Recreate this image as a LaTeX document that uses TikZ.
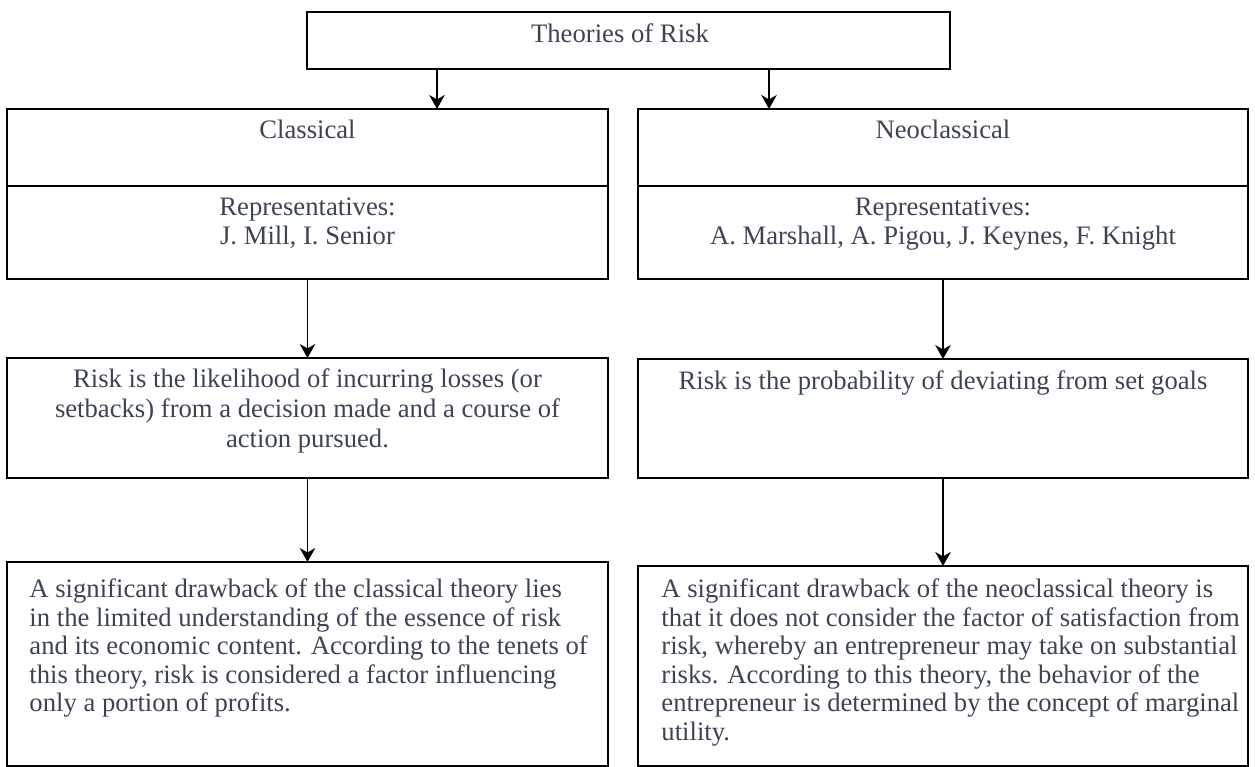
\documentclass[tikz,border=0pt]{standalone}
\usepackage{fontspec}
\setmainfont{Liberation Serif}
\usetikzlibrary{arrows.meta, positioning}
\usepackage{xcolor}
\definecolor{SlateText}{RGB}{60,68,84}

\begin{document}
\begin{tikzpicture}[
          x=0.45pt, y=-0.45pt,
          frame/.style={rectangle, draw=black, line width=0.75pt, inner sep=0pt, outer sep=0pt},
          caption/.style={inner sep=0pt, font=\fontsize{12pt}{13.4pt}\selectfont, text=SlateText, align=center},
          verdict/.style={caption, font=\fontsize{12pt}{12.85pt}\selectfont, align=left},
          arrow/.style={-{Stealth[length=6.3pt, width=7pt, inset=2pt]}, line width=0.8pt, black}
        ]
          \useasboundingbox (0,0) rectangle (1255,767);
          % top level
          \node (theories) [frame, minimum width=289.35pt, minimum height=25.65pt] at (628.5,40.5) {};
          \node (theoriesTxt) [caption, below=4.85pt of theories.north, xshift=-3.83pt] {Theories of Risk};
          % classical column
          \node (clsHead) [frame, minimum width=270.45pt, minimum height=34.65pt] at (307.5,147.5) {};
          \node (clsRep) [frame, minimum width=270.45pt, minimum height=41.85pt, below=0pt of clsHead] {};
          \node (clsDef) [frame, minimum width=270.45pt, minimum height=54pt, below=35.55pt of clsRep] {};
          \node (clsCrit) [frame, minimum width=270.45pt, minimum height=91.8pt, below=37.8pt of clsDef] {};
          % neoclassical column
          \node (neoHead) [frame, minimum width=274.5pt, minimum height=34.65pt, right=13.5pt of clsHead] {};
          \node (neoRep) [frame, minimum width=274.5pt, minimum height=41.85pt, below=0pt of neoHead] {};
          \node (neoDef) [frame, minimum width=274.5pt, minimum height=53.55pt, below=36pt of neoRep] {};
          \node (neoCrit) [frame, minimum width=274.5pt, minimum height=90pt, below=39.6pt of neoDef] {};
          % texts
          \node (clsHeadTxt) [caption, below=4.85pt of clsHead.north] {Classical};
          \node (clsRepTxt) [caption, below=4.95pt of clsRep.north] {Representatives:\\J. Mill, I. Senior};
          \node (clsDefTxt) [caption, below=4.75pt of clsDef.north] {Risk is the likelihood of incurring losses (or\\setbacks) from a decision made and a course of\\action pursued.};
          \node (clsCritTxt) [verdict, below right=7.4pt and 9.9pt of clsCrit.north west] {A significant drawback of the classical theory lies\\in the limited understanding of the essence of risk\\and its economic content. According to the tenets of\\this theory, risk is considered a factor influencing\\only a portion of profits.};
          \node (neoHeadTxt) [caption, below=4.85pt of neoHead.north] {Neoclassical};
          \node (neoRepTxt) [caption, below=4.95pt of neoRep.north] {Representatives:\\A. Marshall, A. Pigou, J. Keynes, F. Knight};
          \node (neoDefTxt) [caption, below=4.85pt of neoDef.north] {Risk is the probability of deviating from set goals};
          \node (neoCritTxt) [verdict, below right=5.6pt and 10.35pt of neoCrit.north west] {A significant drawback of the neoclassical theory is\\that it does not consider the factor of satisfaction from\\risk, whereby an entrepreneur may take on substantial\\risks. According to this theory, the behavior of the\\entrepreneur is determined by the concept of marginal\\utility.};
          % connectors
          \coordinate (splitL) at ([xshift=-86.18pt]theories.south);
          \coordinate (splitR) at ([xshift=63.23pt]theories.south);
          \draw[arrow] (splitL) -- (splitL |- clsHead.north);
          \draw[arrow] (splitR) -- (splitR |- neoHead.north);
          \draw[arrow] (clsRep) -- (clsDef);
          \draw[arrow] (clsDef) -- (clsCrit);
          \draw[arrow] (neoRep) -- (neoDef);
          \draw[arrow] (neoDef) -- (neoCrit);
        \end{tikzpicture}
\end{document}
